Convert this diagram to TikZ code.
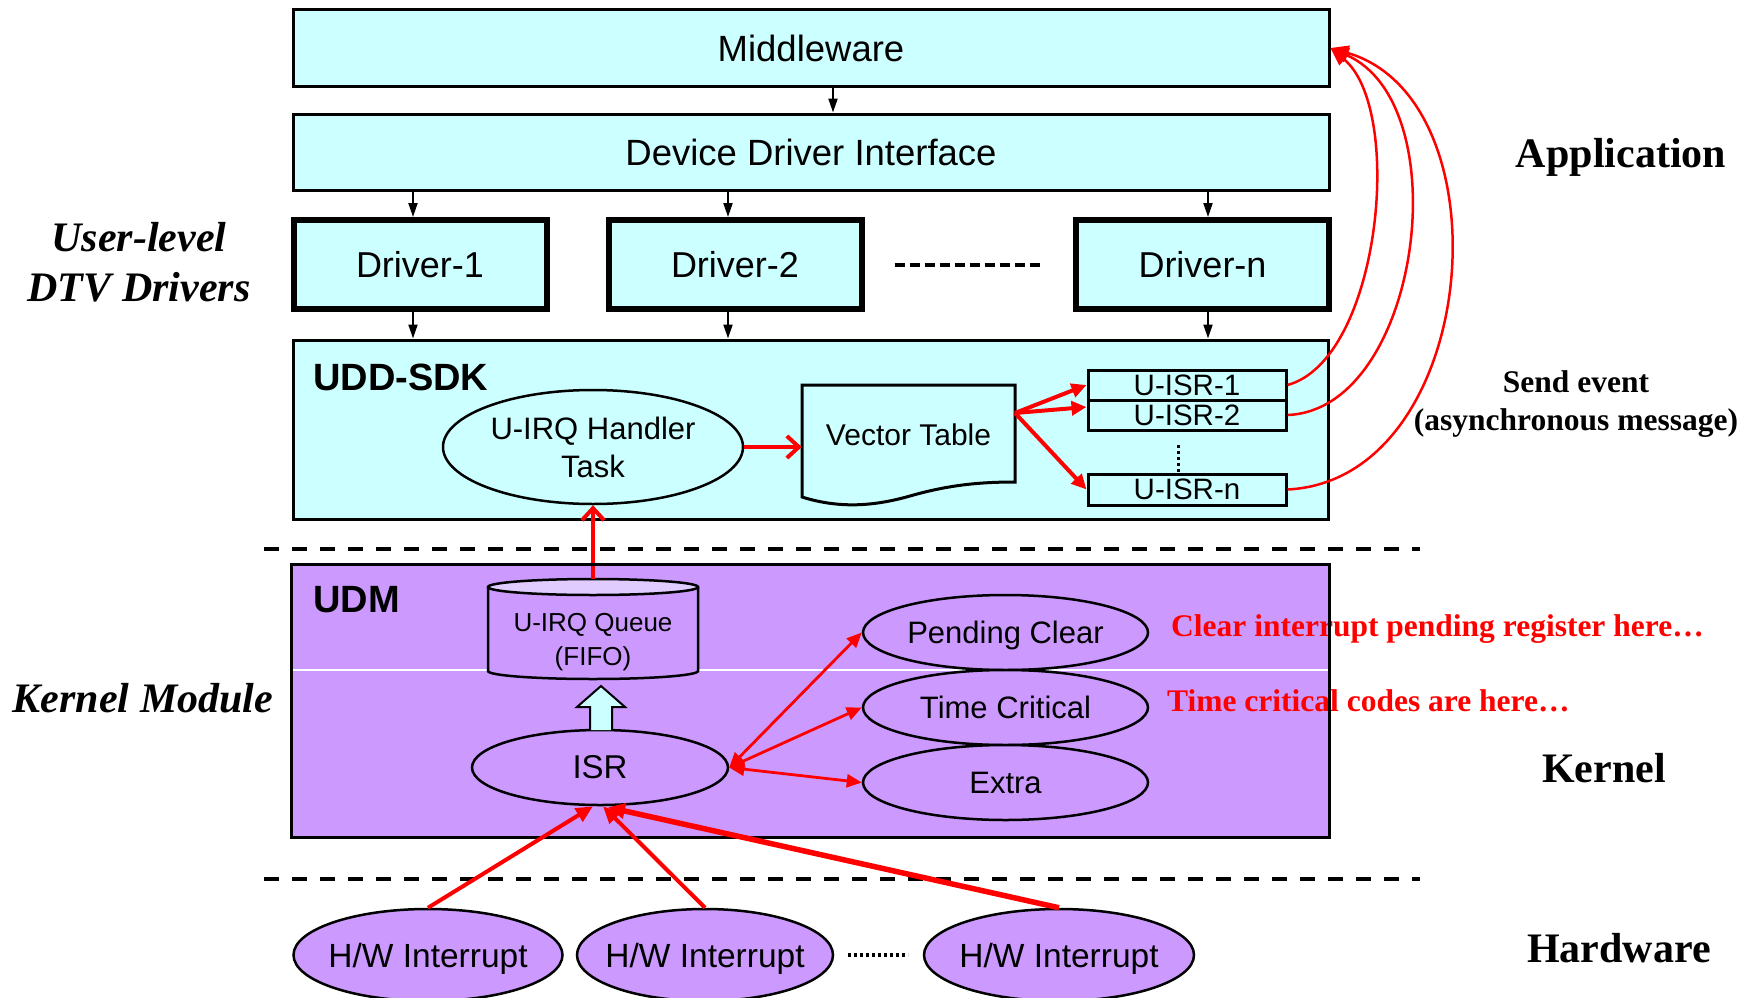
\documentclass[tikz,border=0pt]{standalone}
\usepackage{fontspec}
\setmainfont{Liberation Serif}
\setsansfont{Liberation Sans}
\usetikzlibrary{arrows.meta,calc,shapes.geometric}
\definecolor{cyanfill}{HTML}{CCFFFF}
\definecolor{purpfill}{HTML}{CC99FF}
\definecolor{purplite}{HTML}{E0CCFF}
\definecolor{hot}{HTML}{FF0000}

\begin{document}
\begin{tikzpicture}[x=1pt,y=-1pt,
  box/.style={draw=black, line width=3pt, fill=cyanfill, inner sep=0pt,
    font=\sffamily\fontsize{36.5}{40}\selectfont},
  drv/.style={draw=black, line width=6pt, fill=cyanfill, inner sep=0pt,
    minimum width=253pt, minimum height=89pt,
    font=\sffamily\fontsize{36}{40}\selectfont},
  panel/.style={line width=3pt, inner sep=0pt},
  tag/.style={inner sep=0pt, anchor=west, font=\sffamily\bfseries\fontsize{38}{40}\selectfont},
  oval/.style={ellipse, draw=black, line width=2.5pt, inner sep=0pt, align=center},
  isrbox/.style={draw=black, line width=3pt, fill=cyanfill, inner sep=0pt,
    minimum width=198pt, font=\sffamily\fontsize{29.5}{30}\selectfont},
  side/.style={inner sep=0pt, align=center, font=\rmfamily\bfseries\fontsize{42}{50}\selectfont},
  sideit/.style={side, font=\rmfamily\bfseries\itshape\fontsize{42}{50}\selectfont},
  note/.style={inner sep=0pt, anchor=west, text=hot, font=\rmfamily\bfseries\fontsize{31.5}{36}\selectfont},
  hwtext/.style={inner sep=0pt, text depth=0pt, font=\sffamily\fontsize{33.5}{36}\selectfont},
  blk/.style={line width=2pt, -{Triangle[length=14pt,width=9pt]}},
  sep/.style={line width=4pt, dash pattern=on 15pt off 13pt},
  vee/.style={draw=hot, line width=4pt, -{Straight Barb[length=12pt,width=22pt,line width=4pt]}},
  fan/.style={draw=hot, line width=4pt, -{Triangle[length=15pt,width=14pt]}},
  both/.style={draw=hot, line width=2.8pt, {Triangle[length=15pt,width=13pt]}-{Triangle[length=15pt,width=13pt]}},
  irq/.style={draw=hot, line width=4pt, -{Triangle[length=17pt,width=15pt]}},
  event/.style={draw=hot, line width=2.5pt, -{Triangle[length=18pt,width=15pt]}}
]
\useasboundingbox (0,0) rectangle (1753,998);

% ---------- application layer ----------
\node[box, minimum width=1036pt, minimum height=76pt] (mw) at (811,48) {Middleware};
\node[box, minimum width=1036pt, minimum height=76pt] (ddi) at (811,152) {Device Driver Interface};
\draw[blk] (mw.south -| 833,0) -- (ddi.north -| 833,0);

% ---------- drivers ----------
\node[drv] (d1) at (420,264.5) {Driver-1};
\node[drv] (d2) at (735,264.5) {Driver-2};
\node[drv] (dn) at (1202.5,264.5) {Driver-n};
\draw[line width=4pt, dash pattern=on 10pt off 5pt] ($(d2.east)+(30,0)$) -- ($(dn.west)+(-33,0)$);

\coordinate (a1) at (413,0);
\coordinate (a2) at (728,0);
\coordinate (a3) at (1208,0);
\draw[blk] (ddi.south -| a1) -- (d1.north -| a1);
\draw[blk] (ddi.south -| a2) -- (d2.north -| a2);
\draw[blk] (ddi.south -| a3) -- (dn.north -| a3);

% ---------- UDD-SDK ----------
\node[panel, draw=black, fill=cyanfill, minimum width=1035pt, minimum height=179pt] (sdk) at (810.5,429.5) {};
\draw[blk] (d1.south -| a1) -- (sdk.north -| a1);
\draw[blk] (d2.south -| a2) -- (sdk.north -| a2);
\draw[blk] (dn.south -| a3) -- (sdk.north -| a3);
\node[tag] (sdklbl) at (313,377) {UDD-SDK};

\node[oval, fill=cyanfill, minimum width=300pt, minimum height=114pt,
  font=\sffamily\fontsize{31}{38}\selectfont] (uirq) at (593,447) {U-IRQ Handler\\Task};

% document-shaped vector table
\draw[line width=3pt, fill=cyanfill] (802,385) -- (1015,385) -- (1015,482)
  .. controls (975,482) and (945,486) .. (910,496)
  .. controls (875,506) and (840,509) .. (802,497) -- cycle;
\node[inner sep=0pt, minimum width=213pt, minimum height=100pt,
  font=\sffamily\fontsize{30}{34}\selectfont] (vt) at (908.5,435) {Vector Table};

\node[isrbox, minimum height=30pt] (isr1) at (1187,385) {U-ISR-1};
\node[isrbox, minimum height=30pt] (isr2) at (1187,415) {U-ISR-2};
\node[isrbox, minimum height=31pt] (isrn) at (1187,489.5) {U-ISR-n};
\draw[line width=3pt, dash pattern=on 3pt off 3pt] (1178,445) -- (1178,472);

\draw[vee] (uirq.east) -- (uirq.east -| vt.west);
\coordinate (vtout) at (1015,413);
\draw[fan] (vtout) -- (isr1.west);
\draw[fan] (vtout) -- ($(isr2.west)+(0,-8)$);
\draw[fan] (vtout) -- (isrn.west);

% events sent back to the middleware
\draw[event] (isr1.east) .. controls (1380,360) and (1405,110) .. (mw.east);
\draw[event] (isr2.east) .. controls (1420,410) and (1460,105) .. (mw.east);
\draw[event] (isrn.east) .. controls (1480,480) and (1510,100) .. (mw.east);

% ---------- boundaries ----------
\draw[sep] (264,549) -- (1420,549);
\draw[sep] (264,879) -- (1420,879);

% ---------- UDM (kernel module) ----------
\node[panel, fill=purpfill, minimum width=1035pt, minimum height=270pt] (udm) at (810.5,701) {};
\draw[white, line width=1.2pt] (udm.west |- 0,670) -- (udm.east |- 0,670);
\node[tag] (udmlbl) at (313,600) {UDM};

% queue cylinder
\fill[purpfill] (488,587) -- (488,671) arc[start angle=180, end angle=0, x radius=105, y radius=8] -- (698,587) -- cycle;
\draw[line width=2.5pt] (488,587) -- (488,671) arc[start angle=180, end angle=0, x radius=105, y radius=8] -- (698,587);
\draw[line width=2.5pt, fill=purplite] (593,587) ellipse[x radius=105, y radius=8];
\node[inner sep=0pt, minimum width=210pt, minimum height=100pt] (queue) at (593,629) {};
\node[inner sep=0pt, align=center, font=\sffamily\fontsize{26}{34}\selectfont] (queuetxt) at (593,642) {U-IRQ Queue\\(FIFO)};

\draw[vee] (queue.north) -- (uirq.south);

\node[oval, fill=purpfill, minimum width=256pt, minimum height=75pt,
  font=\sffamily\fontsize{33}{36}\selectfont] (isr) at (600,767.5) {ISR};

% block arrow from ISR into the queue
\draw[line width=2pt, fill=cyanfill, line join=miter]
  (590,730) -- (590,707) -- (577,707) -- (601,686) -- (625,707) -- (612,707) -- (612,730);

\node[oval, fill=purpfill, minimum width=285pt, minimum height=75pt, text depth=0pt,
  font=\sffamily\fontsize{31}{36}\selectfont] (pc) at (1005.5,632.5) {Pending Clear};
\node[oval, fill=purpfill, minimum width=285pt, minimum height=75pt,
  font=\sffamily\fontsize{31}{36}\selectfont] (tc) at (1005.5,707.5) {Time Critical};
\node[oval, fill=purpfill, minimum width=285pt, minimum height=75pt,
  font=\sffamily\fontsize{31}{36}\selectfont] (ex) at (1005.5,782.5) {Extra};

\draw[both] (isr.east) -- (pc.west);
\draw[both] (isr.east) -- (tc.west);
\draw[both] (isr.east) -- (ex.west);

\node[note] (n1) at (1171,629) {Clear interrupt pending register here…};
\node[note] (n2) at (1167,701) {Time critical codes are here…};
\draw[line width=3pt] (udm.north west) rectangle (udm.south east);

% ---------- hardware ----------
\node[oval, fill=purpfill, minimum width=269pt, minimum height=92pt] (hw1) at (428,955) {};
\node[oval, fill=purpfill, minimum width=256pt, minimum height=92pt] (hw2) at (705,955) {};
\node[oval, fill=purpfill, minimum width=270pt, minimum height=92pt] (hw3) at (1059,955) {};
\node[hwtext] (hw1t) at (hw1.center) {H/W Interrupt};
\node[hwtext] (hw2t) at (hw2.center) {H/W Interrupt};
\node[hwtext] (hw3t) at (hw3.center) {H/W Interrupt};
\draw[line width=4pt, dash pattern=on 3pt off 3pt] (848,955) -- (908,955);

\draw[irq] (hw1.north) -- ($(isr.south)+(-7,0)$);
\draw[irq] (hw2.north) -- ($(isr.south)+(3,0)$);
\draw[irq, line width=5.5pt] (hw3.north) -- ($(isr.south)+(8,1)$);

% ---------- layer captions ----------
\node[sideit] (ulabel) at (139,262) {User-level\\DTV Drivers};
\node[sideit] (klabel) at (143,698) {Kernel Module};
\node[side] (app) at (1621,157) {Application};
\node[side] (kern) at (1604,768) {Kernel};
\node[side] (hwl) at (1619,948) {Hardware};
\node[side, font=\rmfamily\bfseries\fontsize{31.5}{38}\selectfont] (send) at (1576,404) {Send event\\(asynchronous message)};
\end{tikzpicture}
\end{document}
